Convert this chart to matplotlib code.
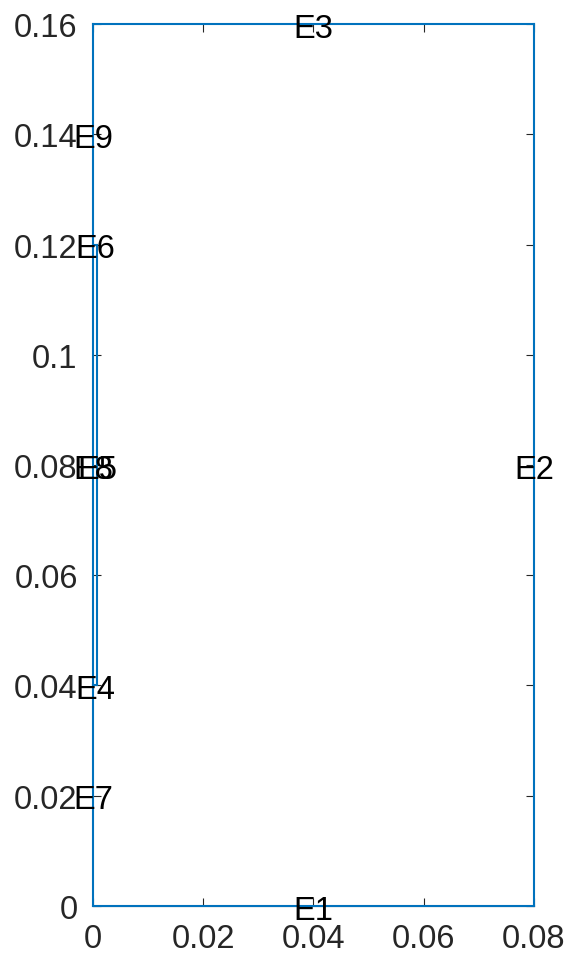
import matplotlib
matplotlib.use("Agg")
import matplotlib.pyplot as plt

plt.rcParams['font.family'] = ['Liberation Sans', 'DejaVu Sans']

# geometry edges (x0, x1, y0, y1) and their labels
edge_names = ['E1', 'E2', 'E3', 'E4', 'E5', 'E6', 'E7', 'E8', 'E9']
edge_x0 = [0.0, 0.08, 0.08, 0.0, 0.0008, 0.0008, 0.0, 0.0, 0.0]
edge_x1 = [0.08, 0.08, 0.0, 0.0008, 0.0008, 0.0, 0.0, 0.0, 0.0]
edge_y0 = [0.0, 0.0, 0.16, 0.04, 0.04, 0.12, 0.0, 0.04, 0.12]
edge_y1 = [0.0, 0.16, 0.16, 0.04, 0.12, 0.12, 0.04, 0.12, 0.16]

xticks = [0, 0.02, 0.04, 0.06, 0.08]
xtick_labels = ['0', '0.02', '0.04', '0.06', '0.08']
yticks = [0, 0.02, 0.04, 0.06, 0.08, 0.1, 0.12, 0.14, 0.16]
ytick_labels = ['0', '0.02', '0.04', '0.06', '0.08', '0.1', '0.12', '0.14', '0.16']

blue = '#0072BD'
gray = '#262626'

fig = plt.figure(figsize=(5.7, 9.62), dpi=100)
ax = fig.add_axes([0.163, 0.0572, 0.7737, 0.9168])

for x0, x1, y0, y1 in zip(edge_x0, edge_x1, edge_y0, edge_y1):
    ax.plot([x0, x1], [y0, y1], color=blue, lw=1.5, zorder=3, clip_on=False)

for name, x0, x1, y0, y1 in zip(edge_names, edge_x0, edge_x1, edge_y0, edge_y1):
    ax.annotate(name, ((x0 + x1) / 2, (y0 + y1) / 2), xytext=(0, -3),
                textcoords='offset points', ha='center', va='center',
                fontsize=23.5, color='black', zorder=4, annotation_clip=False)

ax.set_xlim(0, 0.08)
ax.set_ylim(0, 0.16)
ax.set_xticks(xticks)
ax.set_xticklabels(xtick_labels)
ax.set_yticks(yticks)
ax.set_yticklabels(ytick_labels)
ax.tick_params(direction='in', top=True, right=True, length=6, width=0.8,
               color=gray, labelcolor=gray, labelsize=23.5)
ax.tick_params(axis='x', pad=12)
ax.tick_params(axis='y', pad=11)
for s in ax.spines.values():
    s.set_color(gray)
    s.set_linewidth(0.8)
for s in ['left', 'top', 'right']:
    ax.spines[s].set_visible(False)

fig.savefig('out.png', dpi=100)
